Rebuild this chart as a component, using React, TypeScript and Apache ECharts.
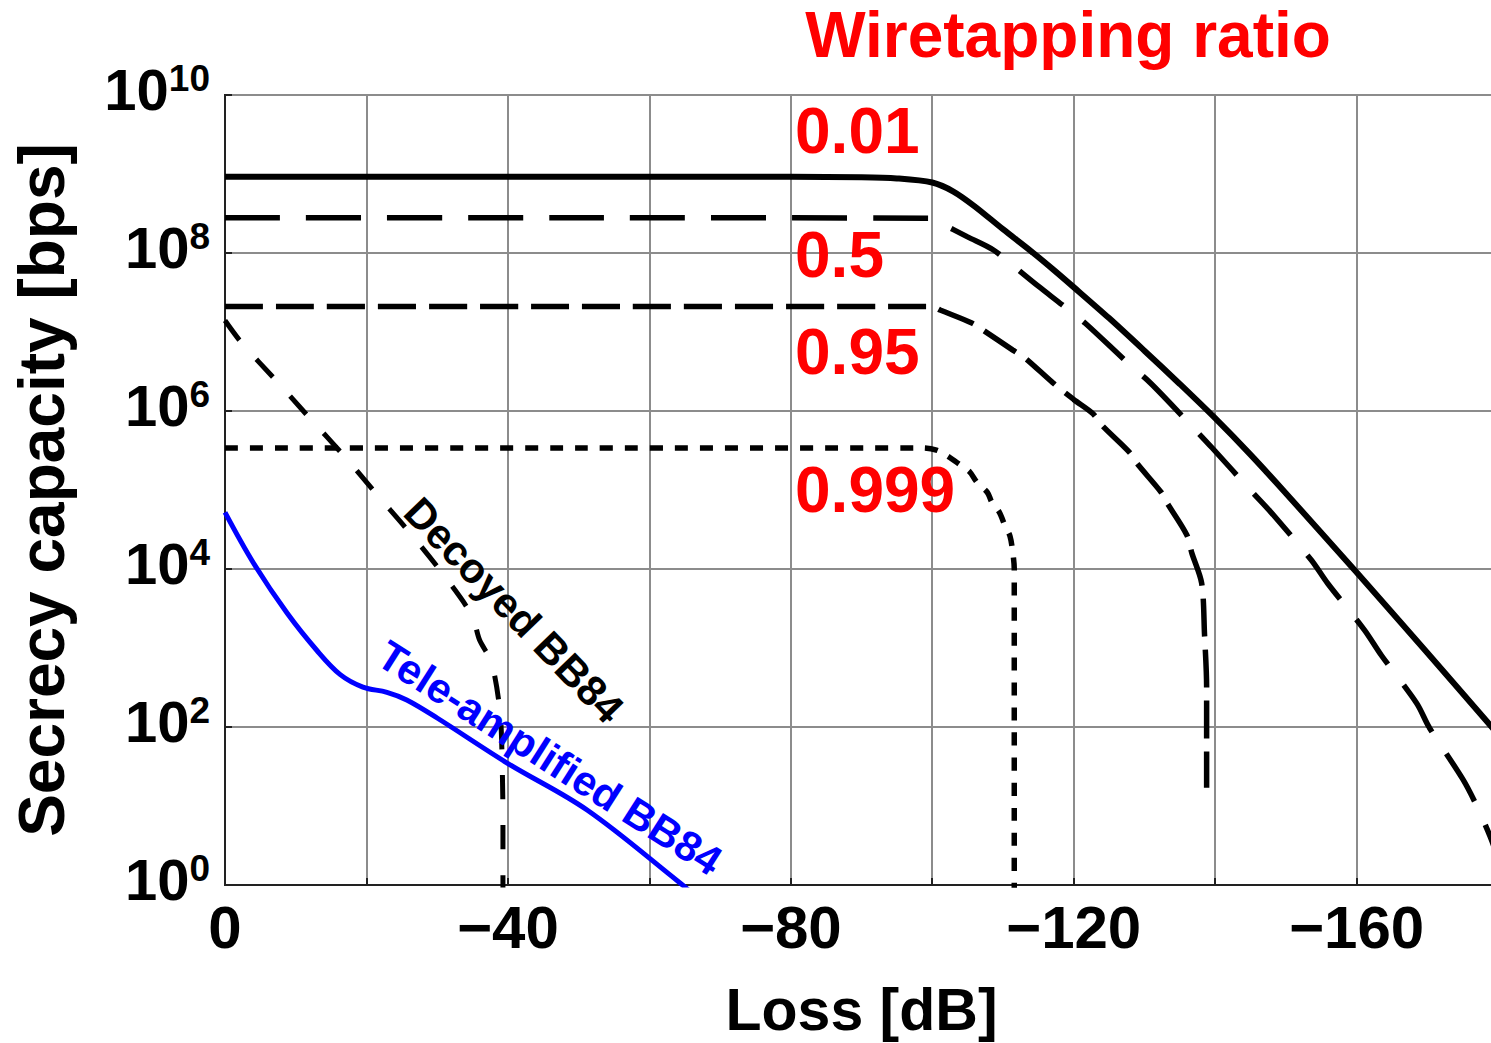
import React, { useEffect, useRef } from "react";
import * as echarts from "echarts";

const FONT = '"Liberation Sans", Arial, Helvetica, sans-serif';

// Loss axis ticks [dB] and log-capacity ticks (exponent of 10)
const lossTicks = [0, -20, -40, -60, -80, -100, -120, -140, -160, -180];
const capExpTicks = [0, 2, 4, 6, 8, 10];

// Wiretapping ratio 0.01 (solid)
const loss001 = [0, -20, -40, -60, -80, -90, -95, -100, -103, -106, -110, -114, -117, -120, -125, -130, -135, -140, -145, -150, -160, -170, -180];
const cap001 = [9.2e8, 9.2e8, 9.2e8, 9.2e8, 9.2e8, 9.1e8, 8.8e8, 7.8e8, 6.0e8, 3.9e8, 2.0e8, 1.05e8, 6.3e7, 3.7e7, 1.5e7, 5.8e6, 2.2e6, 8.1e5, 2.8e5, 9.1e4, 9.1e3, 8.7e2, 8.1e1];

// Wiretapping ratio 0.5 (long dash)
const loss05 = [0, -50, -100, -101, -105, -108.6, -111.7, -115, -118.4, -121.6, -127.6, -131, -136.8, -139.6, -145.3, -148, -153.6, -155.9, -161.1, -163.5, -168.5, -170.3, -175, -177, -178.9, -180];
const cap05 = [2.8e8, 2.8e8, 2.75e8, 2.45e8, 1.6e8, 1.1e8, 6.6e7, 3.8e7, 2.2e7, 1.3e7, 4.1e6, 2.2e6, 6.3e5, 3.4e5, 9.3e4, 5.1e4, 1.3e4, 6.6e3, 1.7e3, 810, 200, 98, 22, 10, 4.1, 2.2];

// Wiretapping ratio 0.95 (medium dash)
const loss095 = [0, -50, -100, -101.1, -105.6, -107.1, -111.4, -113.1, -117, -120, -122.7, -124, -127.9, -128.9, -132.4, -133.1, -136, -136.7, -138.1, -138.5, -138.8, -138.8, -138.8];
const cap095 = [2.1e7, 2.1e7, 2.1e7, 1.9e7, 1.3e7, 1.07e7, 5.9e6, 4.7e6, 2.3e6, 1.4e6, 9.3e5, 6.6e5, 3.0e5, 2.2e5, 9.3e4, 7.1e4, 2.7e4, 1.6e4, 6.6e3, 1.5e3, 320, 79, 17];

// Wiretapping ratio 0.999 (dotted)
const loss0999 = [0, -50, -98.7, -100.6, -102, -103.9, -105.3, -106.3, -107.8, -108.4, -109.5, -110.3, -111, -111.4, -111.6, -111.6, -111.6, -111.6];
const cap0999 = [3.4e5, 3.4e5, 3.4e5, 3.2e5, 2.75e5, 2.1e5, 1.7e5, 1.26e5, 9.3e4, 7.1e4, 5.2e4, 3.5e4, 2.6e4, 1.6e4, 1.0e4, 1.0e3, 1, 0.1];

// Decoyed BB84 (short dash)
const lossDecoy = [0, -2.4, -7.1, -12, -17, -21.5, -26.1, -30.7, -34.9, -36, -37.7, -38.9, -39.2, -39.3, -39.3];
const capDecoy = [1.4e7, 7.2e6, 2.5e6, 8.1e5, 2.6e5, 8.7e4, 2.9e4, 8.9e3, 2.6e3, 1.26e3, 650, 150, 31, 6, 0.8];

// Tele-amplified BB84 (blue solid)
const lossTele = [0, -4, -8.8, -13, -16.3, -19.5, -22.9, -25.7, -30, -39.9, -51.2, -64.3, -65.5];
const capTele = [5.2e4, 1.2e4, 2.75e3, 930, 460, 320, 275, 220, 130, 35, 8.9, 1.07, 0.87];

const toPairs = (xs: number[], ys: number[]) => xs.map((x, i) => [x, Math.log10(ys[i])]);

const baseText = { fontFamily: FONT, fontWeight: "bold" as const };

export default function App() {
  const ref = useRef<HTMLDivElement>(null);

  useEffect(() => {
    if (!ref.current) return;
    const chart = echarts.init(ref.current, undefined, { renderer: "svg" });

    const lineSeries = (name: string, xs: number[], ys: number[], color: string, type: any, width: number, smooth: number | boolean = 0.3) => ({
      name,
      type: "line",
      data: toPairs(xs, ys),
      showSymbol: false,
      symbol: "none",
      smooth,
      clip: true,
      z: 3,
      lineStyle: { color, width, type, cap: "butt" },
      emphasis: { disabled: true },
    });

    const redLabel = (text: string, x: number, y: number) => ({
      type: "text",
      x,
      y,
      z: 100,
      style: {
        text,
        fill: "#ff0000",
        fontSize: 64,
        lineHeight: 56,
        ...baseText,
        align: "left",
        verticalAlign: "middle",
        textAlign: "left",
        textVerticalAlign: "middle",
      },
    });

    chart.setOption({
      animation: false,
      backgroundColor: "#ffffff",
      grid: {
        left: 225,
        top: 95,
        width: 1273,
        height: 790,
        show: true,
        borderColor: "#222",
        borderWidth: 2,
        containLabel: false,
        outerBoundsMode: "none",
      },
      xAxis: {
        type: "value",
        min: lossTicks[lossTicks.length - 1],
        max: lossTicks[0],
        interval: 20,
        inverse: true,
        axisLine: { show: true, lineStyle: { color: "#222", width: 2 } },
        axisTick: { show: true, inside: true, length: 7, lineStyle: { color: "#222", width: 2 } },
        splitLine: { show: true, lineStyle: { color: "#8c8c8c", width: 2 } },
        axisLabel: {
          interval: 0,
          formatter: (v: number) =>
            v % 40 === 0 && v > -180 ? (v === 0 ? "0" : "\u2212" + Math.abs(v)) : "",
          fontSize: 60,
          ...baseText,
          color: "#000",
          margin: 12,
        },
        name: "Loss [dB]",
        nameLocation: "middle",
        nameGap: 100,
        nameTextStyle: { fontSize: 59, lineHeight: 50, ...baseText, color: "#000" },
      },
      yAxis: {
        type: "value",
        min: capExpTicks[0],
        max: capExpTicks[capExpTicks.length - 1],
        interval: 2,
        axisLine: { show: true, lineStyle: { color: "#222", width: 2 } },
        axisTick: { show: true, inside: true, length: 7, lineStyle: { color: "#222", width: 2 } },
        splitLine: { show: true, lineStyle: { color: "#8c8c8c", width: 2 } },
        axisLabel: {
          formatter: (v: number) => `{b|10}{s|${v}}`,
          margin: 15,
          padding: [0, 0, 12, 0],
          rich: {
            b: { fontSize: 58, ...baseText, color: "#000", verticalAlign: "bottom" },
            s: { fontSize: 37, lineHeight: 37, ...baseText, color: "#000", verticalAlign: "top", padding: [0, 0, 32, 0] },
          },
        },
        name: "Secrecy capacity [bps]",
        nameLocation: "middle",
        nameRotate: 90,
        nameGap: 151,
        nameTextStyle: { fontSize: 64, ...baseText, color: "#000" },
      },
      series: [
        lineSeries("0.01", loss001, cap001, "#000", "solid", 6),
        lineSeries("0.5", loss05, cap05, "#000", [55, 26], 5.5),
        lineSeries("0.95", loss095, cap095, "#000", [38, 13], 5.5),
        lineSeries("0.999", loss0999, cap0999, "#000", [13, 12], 5.5),
        lineSeries("Decoyed BB84", lossDecoy, capDecoy, "#000", [24, 26], 5),
        lineSeries("Tele-amplified BB84", lossTele, capTele, "#0000ff", "solid", 5, 0.35),
      ],
      graphic: [
        {
          type: "text",
          x: 1068,
          y: 35,
          z: 100,
          style: {
            text: "Wiretapping ratio",
            fill: "#ff0000",
            fontSize: 64,
            lineHeight: 54,
            ...baseText,
            align: "center",
            verticalAlign: "middle",
            textAlign: "center",
            textVerticalAlign: "middle",
          },
        },
        redLabel("0.01", 795, 131),
        redLabel("0.5", 795, 255),
        redLabel("0.95", 795, 352),
        redLabel("0.999", 795, 490),
        {
          type: "text",
          x: 514,
          y: 610,
          rotation: (-46 * Math.PI) / 180,
          z: 100,
          style: {
            text: "Decoyed BB84",
            fill: "#000",
            fontSize: 42,
            ...baseText,
            align: "center",
            verticalAlign: "middle",
            textAlign: "center",
            textVerticalAlign: "middle",
          },
        },
        {
          type: "text",
          x: 550,
          y: 758,
          rotation: (-32.5 * Math.PI) / 180,
          z: 100,
          style: {
            text: "Tele-amplified BB84",
            fill: "#0000ff",
            fontSize: 42,
            ...baseText,
            align: "center",
            verticalAlign: "middle",
            textAlign: "center",
            textVerticalAlign: "middle",
          },
        },
      ],
    });

    return () => chart.dispose();
  }, []);

  return (
    <div
      style={{
        position: "fixed",
        left: 0,
        top: 0,
        width: 1491,
        height: 1043,
        overflow: "hidden",
        background: "#fff",
      }}
    >
      <div ref={ref} style={{ width: 1500, height: 1043 }} />
    </div>
  );
}
